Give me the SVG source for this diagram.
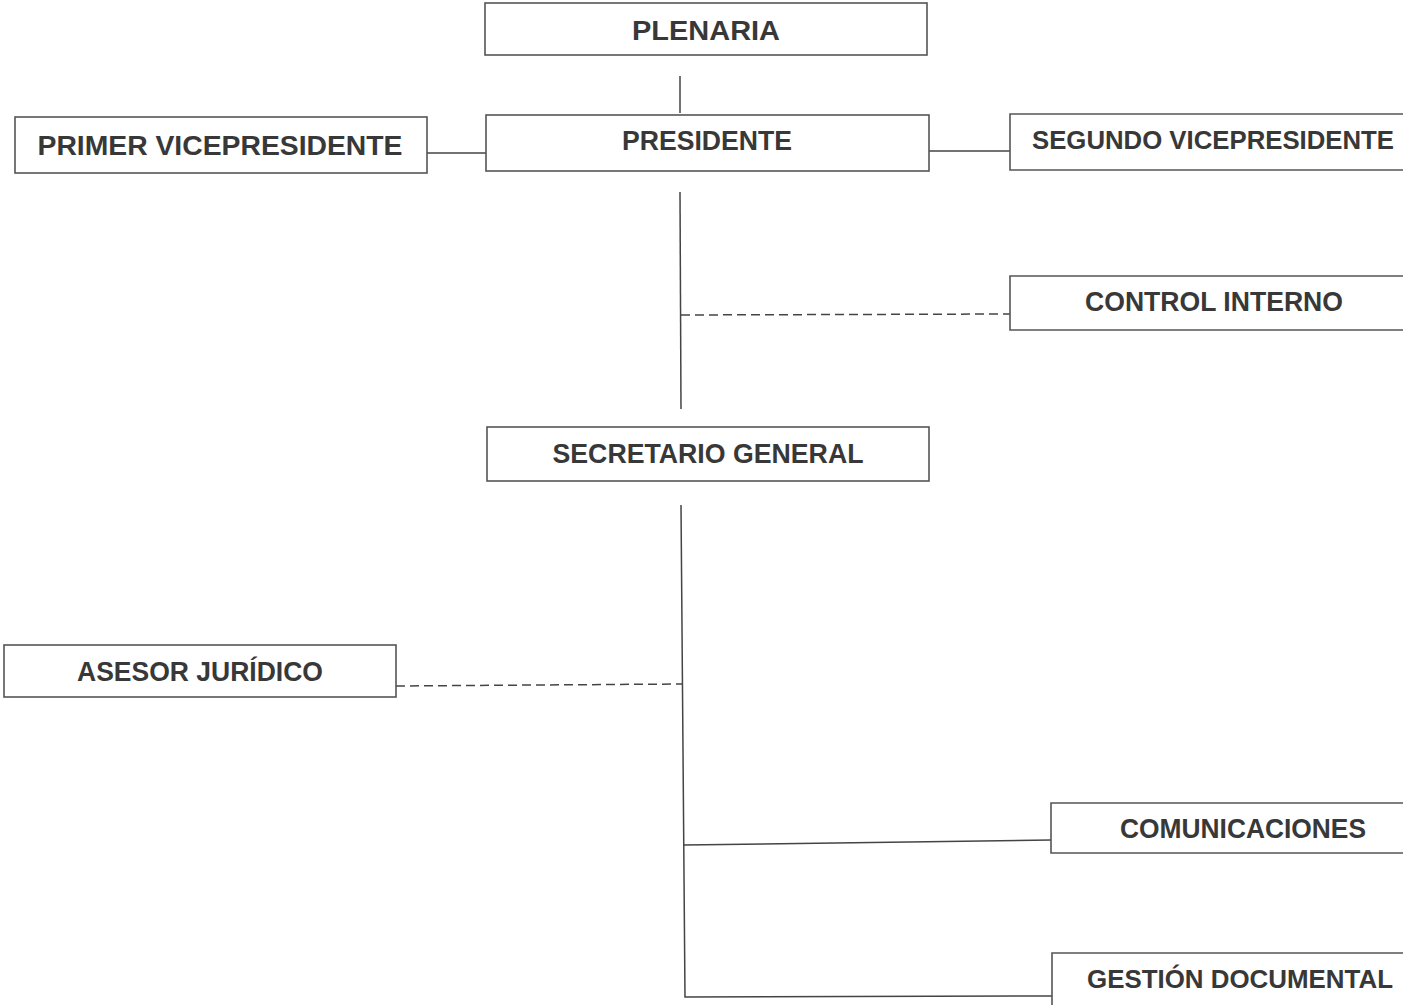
<svg xmlns="http://www.w3.org/2000/svg" width="1403" height="1005" viewBox="0 0 1403 1005">
<style>
.box{fill:#fff;stroke:#555;stroke-width:1.6}
.t{font-family:"Liberation Sans",Arial,sans-serif;font-weight:bold;font-size:27px;fill:#383838;text-anchor:middle}
.s{font-size:25.8px;text-anchor:start}
.c{stroke:#444;stroke-width:1.5;fill:none}
.d{stroke:#444;stroke-width:1.5;fill:none;stroke-dasharray:9 5}
</style>
<rect width="1403" height="1005" fill="#fff"/>
<g id="connectors">
<line class="c" x1="680" y1="76" x2="680" y2="113"/>
<line class="c" x1="427" y1="153" x2="486" y2="153"/>
<line class="c" x1="929" y1="151" x2="1010" y2="151"/>
<line class="c" x1="680" y1="192" x2="681" y2="409"/>
<line class="d" x1="681" y1="315" x2="1010" y2="314"/>
<polyline class="c" points="681,505 685,997 1052,996"/>
<line class="d" x1="396" y1="686" x2="682" y2="684"/>
<line class="c" x1="684" y1="845" x2="1051" y2="840"/>
</g>
<g id="plenaria"><rect class="box" x="485" y="3" width="442" height="52"/><text class="t" x="706" y="40" textLength="148" lengthAdjust="spacingAndGlyphs">PLENARIA</text></g>
<g id="presidente"><rect class="box" x="486" y="115" width="443" height="56"/><text class="t" x="707" y="150" textLength="170" lengthAdjust="spacingAndGlyphs">PRESIDENTE</text></g>
<g id="primer-vicepresidente"><rect class="box" x="15" y="117" width="412" height="56"/><text class="t" x="220" y="155" textLength="365" lengthAdjust="spacingAndGlyphs">PRIMER VICEPRESIDENTE</text></g>
<g id="segundo-vicepresidente"><path class="box" d="M1403,114 H1010 V170 H1403"/><text class="t s" x="1032" y="149" textLength="362" lengthAdjust="spacingAndGlyphs">SEGUNDO VICEPRESIDENTE</text></g>
<g id="control-interno"><path class="box" d="M1403,276 H1010 V330 H1403"/><text class="t" x="1214" y="311" textLength="258" lengthAdjust="spacingAndGlyphs">CONTROL INTERNO</text></g>
<g id="secretario-general"><rect class="box" x="487" y="427" width="442" height="54"/><text class="t" x="708" y="463" textLength="311" lengthAdjust="spacingAndGlyphs">SECRETARIO GENERAL</text></g>
<g id="asesor-juridico"><rect class="box" x="4" y="645" width="392" height="52"/><text class="t" x="200" y="681" textLength="246" lengthAdjust="spacingAndGlyphs">ASESOR JURÍDICO</text></g>
<g id="comunicaciones"><path class="box" d="M1403,803 H1051 V853 H1403"/><text class="t" x="1243" y="838" textLength="246" lengthAdjust="spacingAndGlyphs">COMUNICACIONES</text></g>
<g id="gestion-documental"><path class="box" d="M1403,953 H1052 V1005"/><text class="t s" x="1087" y="988" textLength="306" lengthAdjust="spacingAndGlyphs">GESTIÓN DOCUMENTAL</text></g>
</svg>
